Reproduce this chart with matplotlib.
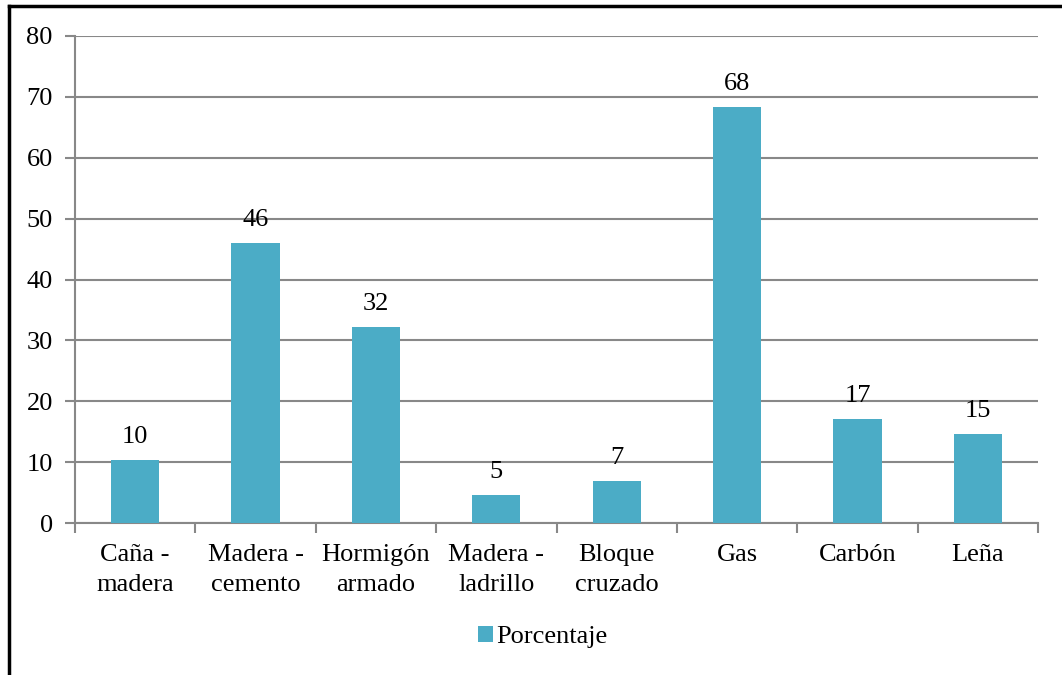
import numpy as np
import matplotlib.pyplot as plt
from matplotlib.lines import Line2D
from matplotlib.patches import Patch

categories = ['Caña -\nmadera', 'Madera -\ncemento', 'Hormigón\narmado', 'Madera -\nladrillo',
              'Bloque\ncruzado', 'Gas', 'Carbón', 'Leña']
values = [10.3, 46.0, 32.2, 4.6, 6.9, 68.3, 17.1, 14.6]
labels = ['10', '46', '32', '5', '7', '68', '17', '15']
series_name = 'Porcentaje'

bar_color = '#4BACC6'
grid_color = '#888888'

plt.rcParams['font.family'] = 'serif'
plt.rcParams['font.serif'] = ['Liberation Serif', 'Times New Roman', 'DejaVu Serif']
fs = 19

fig = plt.figure(figsize=(10.62, 6.75), dpi=100)
ax = fig.add_axes([75 / 1062, 1 - 523 / 675, (1038 - 75) / 1062, (523 - 36) / 675])

x = np.arange(len(categories))
ax.bar(x, values, width=0.4, color=bar_color, zorder=3)
for xi, v, lab in zip(x, values, labels):
    ax.text(xi, v + 2.0, lab, ha='center', va='bottom', fontsize=fs)

ax.set_xlim(-0.5, len(categories) - 0.5)
ax.set_ylim(0, 80)
ax.set_yticks(np.arange(0, 81, 10))
ax.set_xticks(np.arange(-0.5, len(categories), 1))
ax.set_xticklabels([])
ax.set_xticks(x, minor=True)
ax.set_xticklabels(categories, minor=True, fontsize=fs, linespacing=1.5)
ax.tick_params(axis='x', which='minor', length=0, pad=15)
ax.tick_params(axis='x', which='major', length=7, width=1.5, color=grid_color)
ax.tick_params(axis='y', length=7, width=1.5, color=grid_color, labelsize=fs, pad=9)

ax.yaxis.grid(True, color=grid_color, linewidth=1.5, zorder=0)
for s in ['top', 'right']:
    ax.spines[s].set_visible(False)
for s in ['left', 'bottom']:
    ax.spines[s].set_color(grid_color)
    ax.spines[s].set_linewidth(1.5)

handles = [Patch(facecolor=bar_color, label=series_name)]
fig.legend(handles=handles, loc='center', bbox_to_anchor=(543 / 1062, 1 - 637 / 675), frameon=False,
           fontsize=fs, handlelength=0.55, handleheight=0.55, handletextpad=0.15)

# outer frame (left and top edges)
fig.add_artist(Line2D([9 / 1062, 9 / 1062], [0, 1 - 6 / 675], color='black', linewidth=2.5,
                      transform=fig.transFigure))
fig.add_artist(Line2D([9 / 1062, 1], [1 - 6 / 675, 1 - 6 / 675], color='black', linewidth=2.5,
                      transform=fig.transFigure))

fig.savefig('out.png', dpi=100)
